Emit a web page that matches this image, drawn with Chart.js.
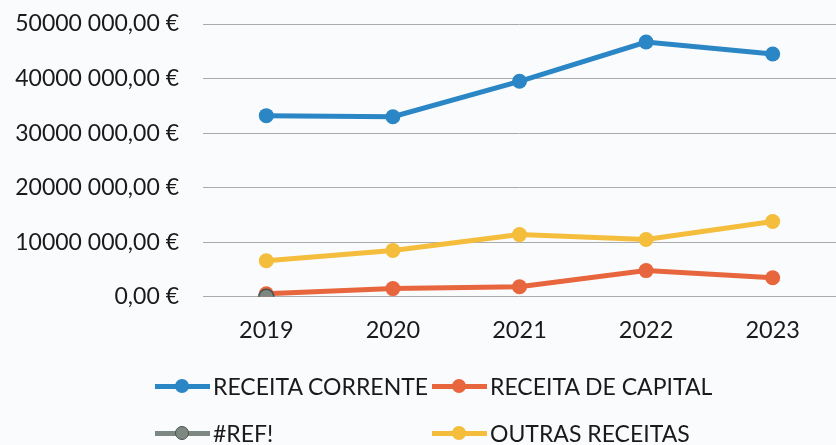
<!DOCTYPE html>
<html>
<head>
<meta charset="utf-8">
<script src="https://cdn.jsdelivr.net/npm/chart.js@4/dist/chart.umd.min.js"></script>
<style>
  html, body { margin: 0; padding: 0; background: #fafbfc; }
  #wrap { position: relative; width: 836px; height: 445px; overflow: hidden; }
  #legend { position: absolute; left: 155px; top: 372px; font-family: Lato, "Open Sans", sans-serif; font-size: 23px; color: #1a1a1a; }
  .lg-item { position: absolute; display: flex; align-items: center; white-space: nowrap; }
  .lg-mark { position: relative; width: 55px; height: 14px; margin-right: 3px; }
  .lg-mark .ln { position: absolute; left: 0; right: 0; top: 5px; height: 5px; }
  .lg-mark .pt { position: absolute; left: 20px; top: 0; width: 14px; height: 14px; border-radius: 50%; box-sizing: border-box; }
</style>
</head>
<body>
<div id="wrap">
  <canvas id="simChart" width="836" height="445"></canvas>
  <div id="legend"></div>
</div>
<script>
// ── Dados ──
var anos = ['2019', '2020', '2021', '2022', '2023'];
var receitaCorrente = [33200000, 33000000, 39500000, 46700000, 44500000];
var receitaCapital = [550000, 1500000, 1850000, 4800000, 3500000];
var refErro = [0, null, null, null, null];
var outrasReceitas = [6600000, 8500000, 11400000, 10500000, 13800000];
var nomesSeries = ['RECEITA CORRENTE', 'RECEITA DE CAPITAL', '#REF!', 'OUTRAS RECEITAS'];
var yMax = 50000000;
var yStep = 10000000;

function fmtEuro(v) {
    if (v < 1000) return '0,00 €';
    var mil = Math.floor(v / 1000);
    var resto = String(v % 1000).padStart(3, '0');
    return mil + ' ' + resto + ',00 €';
}

var FONT = 'Lato, "Open Sans", sans-serif';

var cores = [
    { line: '#2b86c5', fill: '#2b86c5', border: '#2b86c5' },
    { line: '#e8663d', fill: '#e8663d', border: '#e8663d' },
    { line: '#7e8883', fill: '#7e8883', border: '#4a504d' },
    { line: '#f4bd3c', fill: '#f4bd3c', border: '#f4bd3c' }
];
var valores = [receitaCorrente, receitaCapital, refErro, outrasReceitas];

var datasets = valores.map(function(d, i) {
    return {
        label: nomesSeries[i], data: d,
        borderColor: cores[i].line, backgroundColor: cores[i].fill,
        pointBackgroundColor: cores[i].fill, pointBorderColor: cores[i].border,
        pointBorderWidth: i === 2 ? 1.5 : 0, pointRadius: 7.5,
        borderWidth: 5, tension: 0, spanGaps: false,
        order: i === 2 ? -1 : 0
    };
});

var chart = new Chart(document.getElementById('simChart').getContext('2d'), {
    type: 'line',
    data: { labels: anos, datasets: datasets },
    options: {
        responsive: false, animation: false,
        layout: { autoPadding: false, padding: { left: 8, right: -4, top: 24, bottom: 80 } },
        plugins: { legend: { display: false }, tooltip: { enabled: false } },
        scales: {
            y: {
                min: 0, max: yMax,
                border: { display: false },
                grid: { color: '#a9abad', lineWidth: 1, drawTicks: true, tickLength: 20, tickColor: 'rgba(0,0,0,0)' },
                ticks: { stepSize: yStep, padding: 4, color: '#1a1a1a', font: { family: FONT, size: 23 }, callback: function(v) { return fmtEuro(v); } },
                afterFit: function(scale) { scale.width = 195; }
            },
            x: {
                offset: true,
                border: { display: false },
                grid: { display: false, drawTicks: false, offset: true },
                ticks: { padding: 20, color: '#1a1a1a', font: { family: FONT, size: 23.5 } }
            }
        }
    }
});

// ── Legenda (2 colunas) ──
var legend = document.getElementById('legend');
var posLeg = [[0, 0], [277, 0], [0, 47], [277, 47]];
chart.data.datasets.forEach(function(ds, i) {
    var item = document.createElement('div');
    item.className = 'lg-item';
    item.style.left = posLeg[i][0] + 'px';
    item.style.top = posLeg[i][1] + 'px';
    var mk = document.createElement('span');
    mk.className = 'lg-mark';
    mk.innerHTML = '<span class="ln" style="background:' + cores[i].line + '"></span>' +
        '<span class="pt" style="background:' + cores[i].fill + ';border:' + (i === 2 ? '1.5px solid ' + cores[i].border : 'none') + '"></span>';
    var tx = document.createElement('span');
    tx.textContent = ds.label;
    item.appendChild(mk);
    item.appendChild(tx);
    legend.appendChild(item);
});
</script>
</body>
</html>
